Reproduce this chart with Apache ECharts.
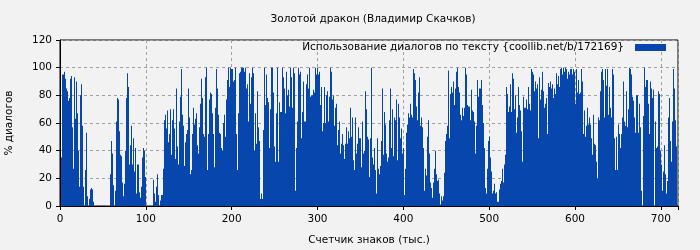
<!DOCTYPE html>
<html>
<head>
<meta charset="utf-8">
<script src="https://cdn.jsdelivr.net/npm/echarts@6/dist/echarts.min.js"></script>
<style>
html,body{margin:0;padding:0;background:#f2f2f2;}
#c{width:700px;height:250px;}
</style>
</head>
<body>
<div id="c"></div>
<script>
const chartTitle = 'Золотой дракон (Владимир Скачков)';
const seriesName = 'Использование диалогов по тексту {coollib.net/b/172169}';
const xAxisName = 'Счетчик знаков (тыс.)';
const yAxisName = '% диалогов';
const xTicks = [0, 100, 200, 300, 400, 500, 600, 700];
const yTicks = [0, 20, 40, 60, 80, 100, 120];
// counter (thousands of chars) where the first bar starts, and the counter span of each bar
const counterStart = 1.16505;
const counterStep = 1.16505;

const part1 = [35,95,95,97,92,85,83,76,78,92,94,57,27,93,63,90,67,40,14,80,88,58,14,0,26,53,7,0,5,12,13,12,3,
0,0,0,0,0,0,0,0,0,0,0,0,0,0,0,0,
23,47,38,15,0,11,61,78,77,54,37,36,17,7,16,40,78,96,86,30,44,58,30,49,25,42,9,30,30,10,6,14,35,42,40,21,
0,0,0,0,0,0,0,
19,9,3,14,23,8,0,4,8];
const part2 = [8,27,62,66,56,69,46,52,70,37,62,70,56,34,85,43,30,61,79,99,66,58,29,46,52,55,85,64,23,26,
52,71,59,63,67,44,38,57,74,92,78,52,50,93,100,26,52,77,82,81,67,52,28,71,99,85,66,53,52,42,
40,60,66,50,77,91,100,86,100,99,99,90,91,100,52,26,67,96,97,100,100,100,97,100,85,88,61,96,74,93,
100,96,40,67,45,83,57,47,5,9,5,55,100,73];
const part3 = [95,78,75,42,70,100,100,82,43,32,67,100,32,75,68,68,100,93,85,67,97,80,84,72,100,93,71,100,96,11,
42,61,100,95,97,49,68,90,61,61,88,95,85,100,79,80,80,84,82,100,95,100,95,97,73,86,54,60,86,60,
80,83,61,79,100,97,77,80,58,71,74,44,55,61,38,45,52,44,34,45,57,45,54,49,71,50,64,33,26,64,
38,45,57,49,49,28,61,38,40,83,70,50,48];
const part4 = [21,49,100,35,30,42,26,9,49,27,23,29,47,85,37,68,59,38,32,35,62,85,42,70,36,64,62,77,33,74,
64,49,56,38,42,8,27,53,59,67,64,74,66,64,99,96,91,72,62,82,93,58,64,57,42,11,27,22,50,62,
38,17,13,6,17,27,40,23,18,19,9,1,7,4,7,24,47,52,58,98,49,81,86,82,90,73,85,97,100,86,
82,66,62,71,65,71,100,95,73,72,72,62,84];
const part5 = [69,68,61,38,58,91,79,85,85,91,73,60,42,13,9,27,47,50,35,25,9,11,16,9,10,3,3,12,16,18,
27,17,30,37,86,81,68,72,88,68,96,92,70,80,53,64,86,73,69,54,32,79,71,71,77,70,86,74,69,99,
97,95,83,90,85,88,49,93,77,84,97,83,71,74,78,52,89,86,90,85,88,78,85,81,96,88,94,86,99,100,
95,100,97,100,99,92,97,95,99,99,95,99,97];
const part6 = [74,99,82,91,81,82,99,90,52,69,50,58,71,59,64,59,49,37,66,45,44,32,20,64,62,83,97,99,91,64,
99,87,99,66,86,71,64,99,95,49,26,50,26,59,52,42,52,64,90,61,58,83,57,70,100,99,95,79,76,64,
53,80,80,53,74,57,11,0,65,100,86,91,91,74,52,90,85,78,84,0,61,42,43,83,81,40,30,11,25,44,
23,9,18,64,78,47,32,61,99,85,62,43];

const dialogPercent = [].concat(part1, part2, part3, part4, part5, part6);
const seriesData = dialogPercent.map((v, i) => [counterStart + (i + 0.5) * counterStep, v]);

const FONT = 'DejaVu Sans';
const chart = echarts.init(document.getElementById('c'), null, {renderer: 'canvas'});
chart.setOption({
  backgroundColor: '#f2f2f2',
  animation: false,
  textStyle: {fontFamily: FONT},
  title: {
    text: chartTitle, left: 368, top: 9, textAlign: 'center',
    textStyle: {fontFamily: FONT, fontSize: 10.5, fontWeight: 'normal', color: '#000'}
  },
  legend: {
    data: [seriesName], right: 34, top: 42, align: 'right',
    icon: 'rect', itemWidth: 31, itemHeight: 7, padding: 0,
    textStyle: {fontFamily: FONT, fontSize: 10.5, color: '#000', padding: [0, 6, 0, 0]}
  },
  grid: {left: 60, right: 22, top: 40, bottom: 44, containLabel: false, outerBoundsMode: 'none',
    show: true, borderColor: '#000', borderWidth: 1, backgroundColor: 'transparent'},
  xAxis: {
    type: 'value', min: 0, max: 720, interval: 100,
    name: xAxisName, nameLocation: 'middle', nameGap: 29,
    nameTextStyle: {fontFamily: FONT, fontSize: 10.5, color: '#000'},
    axisLine: {lineStyle: {color: '#000'}},
    axisTick: {lineStyle: {color: '#000'}, length: 4},
    axisLabel: {fontFamily: FONT, fontSize: 10.5, color: '#000', margin: 8,
      formatter: v => xTicks.includes(v) ? String(v) : ''},
    splitLine: {show: true, lineStyle: {color: '#a0a0a0', type: [3, 3]}}
  },
  yAxis: {
    type: 'value', min: 0, max: 120, interval: 20,
    name: yAxisName, nameLocation: 'middle', nameGap: 45, nameRotate: 90,
    nameTextStyle: {fontFamily: FONT, fontSize: 10.5, color: '#000'},
    axisLine: {show: true, lineStyle: {color: '#000'}},
    axisTick: {show: true, lineStyle: {color: '#000'}, length: 4},
    axisLabel: {fontFamily: FONT, fontSize: 10.5, color: '#000', margin: 8,
      formatter: v => yTicks.includes(v) ? String(v) : ''},
    splitLine: {show: true, lineStyle: {color: '#a0a0a0', type: [3, 3]}}
  },
  series: [{
    name: seriesName, type: 'bar', data: seriesData,
    barWidth: '100%', itemStyle: {color: '#0746ad'}, large: false
  }]
});
</script>
</body>
</html>
